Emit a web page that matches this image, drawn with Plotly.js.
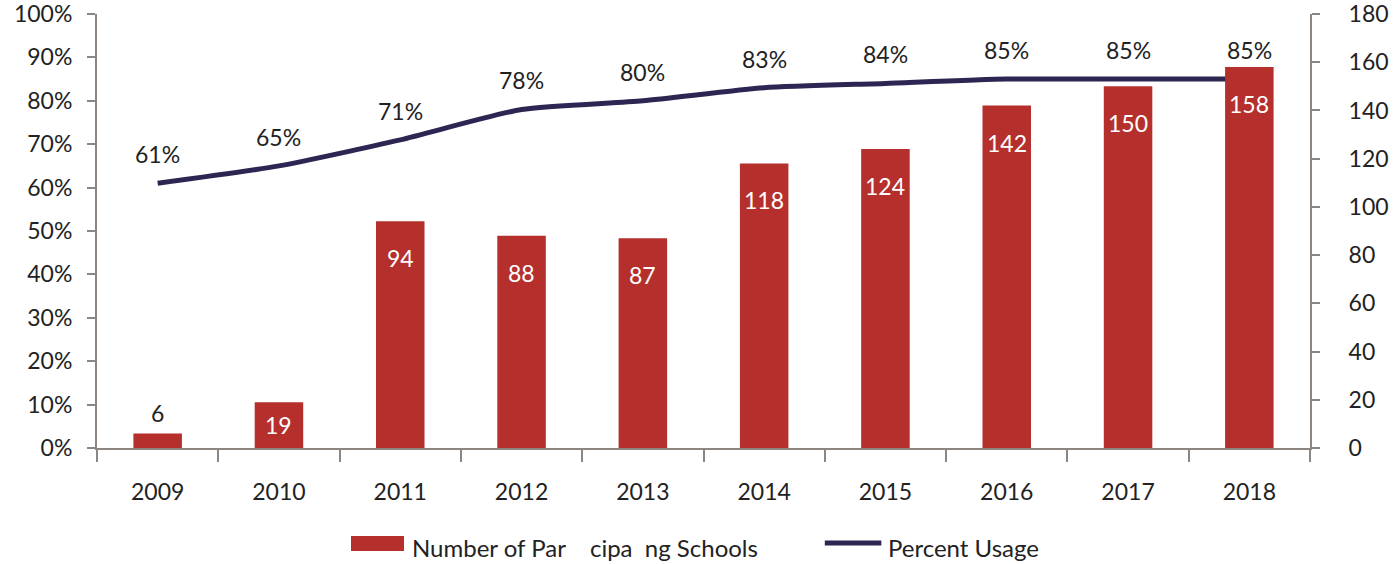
<!DOCTYPE html>
<html>
<head>
<meta charset="utf-8">
<script src="https://cdn.plot.ly/plotly-3.0.1.min.js"></script>
<style>html,body{margin:0;padding:0;background:#fff;}#chart{width:1394px;height:564px;}</style>
</head>
<body>
<div id="chart"></div>
<script>
const years = ['2009','2010','2011','2012','2013','2014','2015','2016','2017','2018'];
const schools = [6, 19, 94, 88, 87, 118, 124, 142, 150, 158];
const usage = [0.61, 0.65, 0.71, 0.78, 0.80, 0.83, 0.84, 0.85, 0.85, 0.85];
const barName = 'Number of Par    cipa  ng Schools';
const lineName = 'Percent Usage';

const fontFam = 'Lato, "Open Sans", sans-serif';
const axisColor = '#8c8580';
const textColor = '#222222';
const barColor = '#b5302c';
const lineColor = '#2d2653';
const lblSize = 23;
const legSize = 24;
const plotH = 564 - 14 - 116;
const y2Max = 180;

const bars = {
  type: 'bar', x: years, y: schools, yaxis: 'y2', name: barName,
  marker: {color: barColor}, width: 0.4, hoverinfo: 'none'
};
const line = {
  type: 'scatter', mode: 'lines', x: years, y: usage, name: lineName,
  line: {color: lineColor, width: 5, shape: 'spline', smoothing: 0.6},
  cliponaxis: false, hoverinfo: 'none'
};

// value labels (category index positions on the category axis)
const barLabels = years.map((yr, i) => {
  const inside = schools[i] >= 15;
  const hPx = schools[i] / y2Max * plotH;
  return {
    x: i, y: schools[i], xref: 'x', yref: 'y2', text: String(schools[i]),
    showarrow: false, yanchor: 'middle', yshift: inside ? -Math.min(37, hPx / 2) : 21,
    font: {size: lblSize, family: fontFam, color: inside ? '#ffffff' : textColor}
  };
});
const lineLabels = years.map((yr, i) => ({
  x: i, y: usage[i], xref: 'x', yref: 'y', text: Math.round(usage[i]*100) + '%',
  showarrow: false, yanchor: 'middle', yshift: 29,
  font: {size: lblSize, family: fontFam, color: textColor}
}));
// legend drawn below the plot
const legendTexts = [
  {x: 0.258, y: -0.230, xref: 'paper', yref: 'paper', text: barName, showarrow: false,
   xanchor: 'left', yanchor: 'middle', font: {size: legSize, family: fontFam, color: textColor}},
  {x: 0.6504, y: -0.230, xref: 'paper', yref: 'paper', text: lineName, showarrow: false,
   xanchor: 'left', yanchor: 'middle', font: {size: legSize, family: fontFam, color: textColor}}
];
const legendShapes = [
  {type: 'rect', xref: 'paper', yref: 'paper', x0: 0.2094, x1: 0.2531, y0: -0.2028, y1: -0.2373,
   fillcolor: barColor, line: {width: 0}},
  {type: 'line', xref: 'paper', yref: 'paper', x0: 0.6000, x1: 0.6466, y0: -0.2189, y1: -0.2189,
   line: {color: lineColor, width: 5}}
];

const layout = {
  width: 1394, height: 564,
  margin: {l: 97, r: 84, t: 14, b: 116},
  paper_bgcolor: '#ffffff', plot_bgcolor: '#ffffff',
  font: {family: fontFam, size: lblSize, color: textColor},
  showlegend: false,
  annotations: barLabels.concat(lineLabels, legendTexts),
  shapes: legendShapes,
  xaxis: {type: 'category', categoryorder: 'array', categoryarray: years, range: [-0.5, 9.5],
          showline: true, linecolor: axisColor, linewidth: 2,
          ticks: 'outside', tickson: 'boundaries', ticklen: 12, tickcolor: axisColor, tickwidth: 2,
          showgrid: false, zeroline: false, tickfont: {size: lblSize}, ticklabelstandoff: 22, tickangle: 0},
  yaxis: {range: [0, 1], dtick: 0.1, tickformat: '.0%', showline: true, linecolor: axisColor, linewidth: 2,
          ticks: 'outside', ticklen: 8, tickcolor: axisColor, tickwidth: 2, showgrid: false, zeroline: false,
          tickfont: {size: lblSize}, ticklabelstandoff: 10, ticklabeloverflow: 'allow'},
  yaxis2: {range: [0, y2Max], dtick: 20, overlaying: 'y', side: 'right', showline: true, linecolor: axisColor, linewidth: 2,
           ticks: 'outside', ticklen: 8, tickcolor: axisColor, tickwidth: 2, showgrid: false, zeroline: false,
           tickfont: {size: lblSize}, ticklabelstandoff: 24, ticklabeloverflow: 'allow'}
};

Plotly.newPlot('chart', [bars, line], layout, {displayModeBar: false, staticPlot: true});
</script>
</body>
</html>
